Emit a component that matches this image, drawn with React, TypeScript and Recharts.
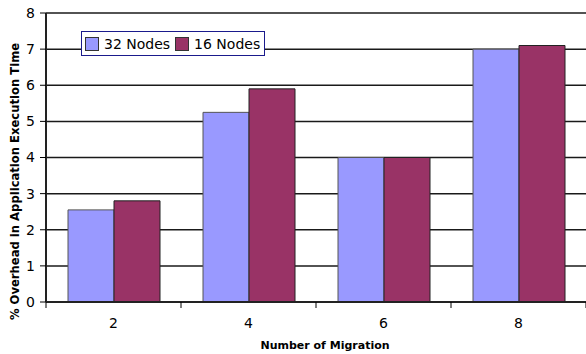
import { Bar, BarChart, CartesianGrid, XAxis, YAxis } from "recharts";

const migrations = ["2", "4", "6", "8"];
const nodes32 = [2.55, 5.25, 4.0, 7.0];
const nodes16 = [2.8, 5.9, 4.0, 7.1];
const yTicks = [0, 1, 2, 3, 4, 5, 6, 7, 8];

const data = migrations.map((m, i) => ({
  migration: m,
  n32: nodes32[i],
  n16: nodes16[i],
}));

const FONT = "DejaVu Sans, Verdana, sans-serif";
const BAND = 135;

const series = [
  { key: "n32", name: "32 Nodes", color: "#9999ff", stroke: "#555" },
  { key: "n16", name: "16 Nodes", color: "#993366", stroke: "#222" },
];

function XTick(props: any) {
  const { x, y, payload, index } = props;
  return (
    <g>
      <line x1={x - BAND / 2} y1={y - 8} x2={x - BAND / 2} y2={y - 2} stroke="#000" />
      {index === migrations.length - 1 && (
        <line x1={x + BAND / 2} y1={y - 8} x2={x + BAND / 2} y2={y - 2} stroke="#000" />
      )}
      <text x={x} y={y + 18} textAnchor="middle" fontSize={14} fill="#000" fontFamily={FONT}>
        {payload.value}
      </text>
    </g>
  );
}

function YTitle(props: any) {
  const vb = props.viewBox || { x: 0, y: 13, width: 46, height: 289 };
  const cx = 19;
  const cy = vb.y + vb.height / 2 + 24;
  return (
    <text
      x={cx}
      y={cy}
      transform={`rotate(-90, ${cx}, ${cy})`}
      textAnchor="middle"
      fontFamily={FONT}
      fontSize={11.6}
      fontWeight="bold"
      fill="#000"
    >
      % Overhead in Application Execution Time
    </text>
  );
}

function LegendBox() {
  return (
    <div
      style={{
        position: "absolute",
        left: 81,
        top: 31,
        boxSizing: "border-box",
        display: "flex",
        alignItems: "center",
        border: "1px solid #1a1a8c",
        background: "#fff",
        padding: "0 4px 0 3px",
        height: 25,
        fontFamily: FONT,
        fontSize: 14,
        color: "#000",
        whiteSpace: "nowrap",
      }}
    >
      {series.map((it, i) => (
        <span
          key={it.name}
          style={{ display: "flex", alignItems: "center", marginLeft: i === 0 ? 0 : 5 }}
        >
          <span
            style={{
              boxSizing: "border-box",
              width: 14,
              height: 14,
              background: it.color,
              border: "1px solid #333",
              marginRight: 5,
            }}
          />
          {it.name}
        </span>
      ))}
    </div>
  );
}

export default function App() {
  return (
    <div style={{ position: "relative", width: 586, height: 354, background: "#fff" }}>
      <style>{`body{margin:0}`}</style>
      <BarChart
        width={586}
        height={354}
        data={data}
        margin={{ top: 13, right: 0, bottom: 0, left: 0 }}
        barGap={0}
        barCategoryGap={22}
      >
        <CartesianGrid vertical={false} stroke="#1a1a1a" strokeWidth={1.5} />
        <XAxis
          dataKey="migration"
          height={52}
          tickLine={false}
          axisLine={{ stroke: "#222", strokeWidth: 2 }}
          tick={<XTick />}
          interval={0}
          label={{
            value: "Number of Migration",
            position: "insideBottom",
            offset: 5,
            dx: 9,
            style: { fontFamily: FONT, fontSize: 11, fontWeight: "bold", fill: "#000" },
          }}
        />
        <YAxis
          width={46}
          domain={[0, 8]}
          ticks={yTicks}
          interval={0}
          tickSize={6}
          tickMargin={5}
          tickLine={{ stroke: "#000" }}
          axisLine={{ stroke: "#222", strokeWidth: 2 }}
          tick={{ fontSize: 14, fill: "#000", fontFamily: FONT }}
          label={<YTitle />}
        />
        {series.map((s) => (
          <Bar
            key={s.key}
            dataKey={s.key}
            name={s.name}
            fill={s.color}
            stroke={s.stroke}
            isAnimationActive={false}
          />
        ))}
      </BarChart>
      <LegendBox />
    </div>
  );
}
